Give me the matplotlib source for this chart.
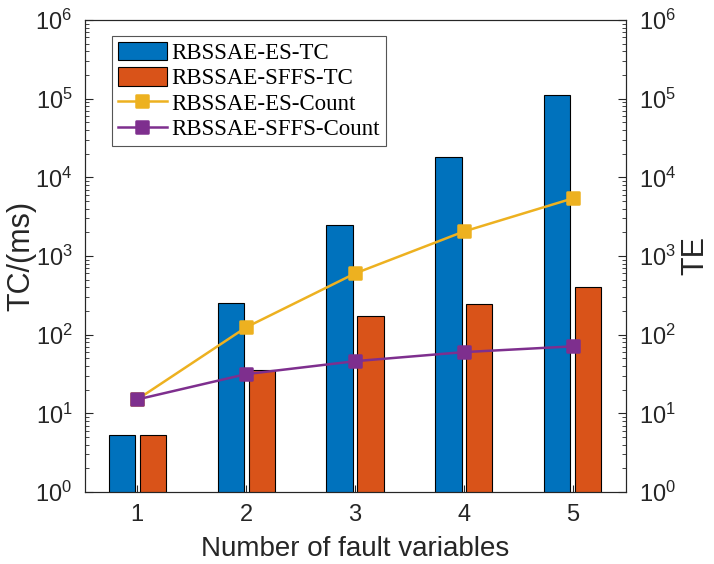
import numpy as np
import matplotlib.pyplot as plt
from matplotlib.markers import MarkerStyle

plt.rcParams['font.family'] = 'Liberation Sans'

# number of fault variables
n_vars = [1, 2, 3, 4, 5]

# time cost (ms) of each search strategy
es_tc = [5.3, 250, 2450, 18300, 112000]
sffs_tc = [5.3, 36, 171, 243, 400]

# evaluation counts
es_count = [15, 124, 600, 2050, 5400]
sffs_count = [15, 31.5, 46, 60, 71]

c_blue = '#0072BD'
c_orange = '#D95319'
c_yellow = '#EDB120'
c_purple = '#7E2F8E'
c_axis = '#262626'

fig = plt.figure(figsize=(7.14, 5.64), dpi=100)
ax = fig.add_axes([0.119, 0.1277, 0.758, 0.8368])
ax2 = ax.twinx()

x = np.array(n_vars)
w = 0.24
off = 0.142
b1 = ax.bar(x - off, es_tc, width=w, color=c_blue, edgecolor='black', linewidth=0.8,
            label='RBSSAE-ES-TC')
b2 = ax.bar(x + off, sffs_tc, width=w, color=c_orange, edgecolor='black', linewidth=0.8,
            label='RBSSAE-SFFS-TC')

sq = MarkerStyle('s', joinstyle='round')
l1, = ax2.plot(x, es_count, '-', marker=sq, color=c_yellow, lw=1.8, ms=9, mew=1.8,
               mec=c_yellow, label='RBSSAE-ES-Count')
l2, = ax2.plot(x, sffs_count, '-', marker=sq, color=c_purple, lw=1.8, ms=9, mew=1.8,
               mec=c_purple, label='RBSSAE-SFFS-Count')

for a in (ax, ax2):
    a.set_yscale('log')
    a.set_ylim(1, 1e6)
    a.set_yticks([10.0 ** k for k in range(7)])
    a.tick_params(axis='y', which='both', direction='in', colors=c_axis,
                  labelsize=17, pad=9)
    a.tick_params(axis='y', which='major', length=6)
    a.tick_params(axis='y', which='minor', length=3)
    for s in a.spines.values():
        s.set_color(c_axis)
        s.set_linewidth(0.8)

ax.set_xlim(0.52, 5.49)
ax.set_xticks(n_vars)
ax.tick_params(axis='x', direction='in', length=5, colors=c_axis, labelsize=17, pad=9)

ax.set_xlabel('Number of fault variables', fontsize=20, color=c_axis, labelpad=7)
ax.set_ylabel('TC/(ms)', fontsize=22, color=c_axis, labelpad=-1)
ax2.set_ylabel('TE', fontsize=22, color=c_axis, labelpad=3)

leg = ax2.legend([b1, b2, l1, l2],
                 ['RBSSAE-ES-TC', 'RBSSAE-SFFS-TC', 'RBSSAE-ES-Count', 'RBSSAE-SFFS-Count'],
                 loc='upper left', bbox_to_anchor=(112 / 714, 1 - 36 / 564),
                 bbox_transform=fig.transFigure, borderaxespad=0,
                 prop={'family': 'Liberation Serif', 'size': 16.5},
                 fancybox=False, framealpha=1, edgecolor='#555555',
                 handlelength=2.15, handleheight=0.85, handletextpad=0.2,
                 labelspacing=0.15, borderpad=0.25)
leg.get_frame().set_linewidth(0.8)

fig.savefig('out.png', dpi=100)
